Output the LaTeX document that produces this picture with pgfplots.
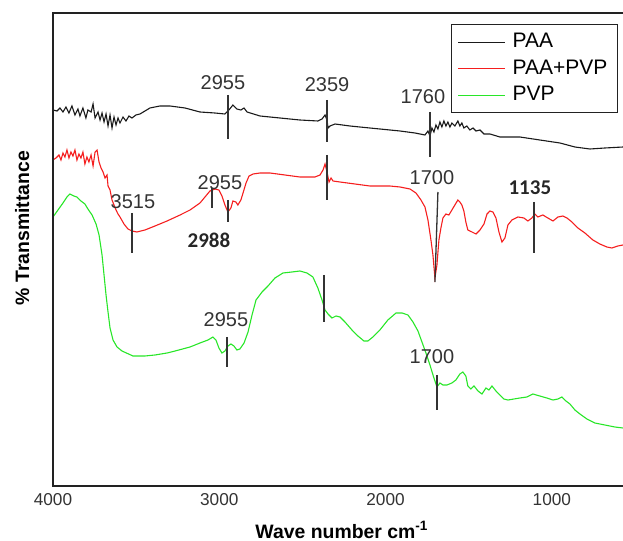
\documentclass[border=0pt]{standalone}
\usepackage{pgfplots}
\pgfplotsset{compat=1.18}
\usepackage{fontspec}
\setmainfont{Liberation Sans}
\newfontfamily\calib{Carlito}
\definecolor{txt}{HTML}{333333}
\definecolor{ln}{HTML}{222222}
\definecolor{cgreen}{RGB}{40,230,40}
\definecolor{cred}{RGB}{245,30,30}
\definecolor{cblack}{HTML}{1A1A1A}
\begin{document}
\begin{tikzpicture}
\begin{axis}[
 scale only axis, width=285pt, height=236.5pt,
 x dir=reverse, xmin=572, xmax=4000, ymin=55, ymax=528,
 xtick={1000,2000,3000,4000}, ytick=\empty,
 major tick length=0pt,
 axis line style={draw=none},
 /pgf/number format/assume math mode=true,
 /pgf/number format/set thousands separator={},
 xticklabel style={font=\fontsize{8.6}{10}\selectfont, text=txt},
 xlabel={\textbf{Wave number cm\textsuperscript{-1}}},
 xlabel style={at={(axis description cs:0.507,-0.093)}, anchor=center, font=\fontsize{9.7}{11}\selectfont},
 ylabel={\textbf{\% Transmittance}},
 ylabel style={at={(axis description cs:-0.054,0.545)}, anchor=center, font=\fontsize{9.7}{11}\selectfont},
 legend style={at={(axis description cs:0.698,0.977)}, anchor=north west, draw=ln, line width=0.6pt,
   font=\fontsize{10.5}{12}\selectfont, inner xsep=3pt, inner ysep=2.5pt, row sep=0.5pt},
 legend cell align=left,
 legend image code/.code={\draw[#1] (0pt,0pt) -- (23.5pt,0pt); \path (25pt,0pt);},
]
\coordinate (SW) at (rel axis cs:0,0);
\coordinate (NE) at (rel axis cs:1,1);
\coordinate (NW) at (rel axis cs:0,1);
\coordinate (SE) at (rel axis cs:1,0);

\addplot[cblack, line width=0.55pt] coordinates {
(4000,431)(3976,430)(3958,433)(3940,429)(3922,434)(3904,428)(3886,435)(3868,426)(3850,432)(3838,425)(3820,433)(3802,423)(3790,431)(3771,429)(3759,437)(3747,423)(3729,429)(3717,421)(3705,428)(3693,419)(3681,427)(3669,415)(3657,426)(3645,413)(3633,424)(3621,416)(3609,423)(3597,418)(3579,424)(3561,420)(3543,425)(3525,423)(3501,426)(3477,427)(3417,433)(3357,435)(3296,435)(3206,433)(3116,429)(3026,428)(2966,427)(2942,431)(2918,436)(2894,432)(2870,431)(2851,433)(2833,429)(2755,425)(2635,423)(2515,421)(2407,420)(2382,422)(2364,426)(2352,421)(2346,413)(2334,415)(2304,417)(2214,415)(2094,413)(1913,410)(1823,408)(1763,406)(1745,410)(1733,405)(1721,413)(1709,409)(1697,416)(1685,412)(1673,419)(1661,414)(1649,420)(1637,415)(1625,419)(1613,414)(1601,418)(1583,415)(1565,420)(1553,415)(1541,418)(1529,413)(1511,415)(1493,411)(1474,413)(1456,410)(1432,411)(1408,407)(1372,407)(1312,404)(1192,404)(1072,401)(951,398)(861,394)(771,392)(681,393)(572,394)
};
\addlegendentry{PAA}

\addplot[cred, line width=0.55pt] coordinates {
(4000,381)(3982,383)(3964,386)(3952,381)(3940,388)(3928,384)(3916,391)(3904,383)(3892,389)(3880,385)(3868,391)(3856,381)(3844,387)(3832,383)(3820,389)(3808,377)(3796,384)(3784,379)(3771,386)(3759,375)(3747,389)(3735,391)(3723,379)(3711,373)(3699,369)(3687,363)(3675,366)(3669,355)(3657,351)(3645,341)(3633,336)(3621,331)(3609,327)(3597,324)(3573,317)(3549,312)(3525,310)(3495,309)(3447,311)(3387,315)(3314,320)(3236,326)(3176,331)(3116,338)(3086,344)(3056,350)(3026,352)(3002,351)(2984,345)(2966,336)(2948,329)(2930,333)(2918,340)(2900,339)(2888,336)(2870,341)(2857,348)(2839,358)(2821,365)(2797,367)(2755,368)(2695,368)(2605,366)(2515,364)(2425,364)(2394,366)(2376,371)(2364,377)(2352,369)(2340,359)(2328,363)(2316,360)(2274,359)(2184,357)(2094,355)(1974,355)(1913,354)(1853,352)(1817,348)(1787,341)(1763,334)(1745,321)(1727,301)(1715,286)(1703,263)(1691,276)(1679,301)(1667,313)(1655,323)(1637,327)(1619,326)(1601,331)(1583,336)(1565,341)(1553,339)(1541,336)(1529,330)(1517,319)(1505,311)(1480,309)(1456,307)(1432,311)(1408,317)(1390,327)(1372,330)(1354,329)(1336,323)(1318,309)(1300,299)(1282,303)(1264,316)(1240,321)(1204,324)(1168,323)(1144,320)(1120,323)(1102,327)(1084,324)(1054,326)(1024,323)(993,320)(963,324)(933,325)(909,323)(879,319)(843,313)(801,308)(753,301)(711,297)(669,294)(639,293)(603,295)(572,296)
};
\addlegendentry{PAA+PVP}

\addplot[cgreen, line width=0.55pt] coordinates {
(4000,324)(3970,331)(3940,338)(3916,344)(3898,347)(3874,345)(3856,344)(3832,340)(3808,337)(3790,332)(3765,326)(3741,317)(3723,306)(3705,286)(3693,266)(3681,246)(3669,229)(3657,213)(3639,201)(3615,194)(3585,190)(3519,185)(3447,185)(3387,186)(3314,188)(3266,190)(3176,194)(3116,198)(3068,201)(3038,204)(3020,201)(3002,193)(2984,188)(2966,190)(2948,195)(2930,197)(2912,195)(2894,191)(2876,192)(2851,198)(2827,209)(2803,226)(2779,241)(2743,249)(2707,255)(2665,263)(2617,268)(2563,269)(2515,270)(2473,268)(2437,264)(2407,253)(2382,241)(2364,231)(2346,227)(2322,223)(2298,225)(2274,224)(2244,219)(2202,211)(2166,205)(2130,200)(2106,200)(2076,204)(2034,211)(1986,221)(1937,228)(1901,228)(1865,226)(1835,219)(1805,210)(1781,199)(1757,188)(1733,176)(1709,163)(1691,154)(1673,158)(1655,156)(1631,156)(1601,158)(1577,161)(1553,167)(1535,169)(1517,165)(1505,155)(1487,152)(1468,155)(1444,150)(1420,147)(1396,153)(1378,151)(1360,155)(1336,150)(1312,146)(1288,142)(1264,141)(1228,142)(1192,143)(1150,144)(1114,147)(1072,145)(1030,143)(993,141)(963,142)(939,144)(915,140)(891,137)(861,131)(831,127)(789,122)(741,118)(681,116)(621,114)(572,113)
};
\addlegendentry{PVP}

% annotations
\begin{scope}[every node/.style={text=txt, font=\fontsize{10}{12}\selectfont, inner sep=0pt}]
\node at (axis cs:2978,458) {2955};
\node at (axis cs:2352,456) {2359};
\node at (axis cs:1775,444) {1760};
\node at (axis cs:3519,339) {3515};
\node at (axis cs:2996,358) {2955};
\node at (axis cs:1721,363) {1700};
\node at (axis cs:2960,221) {2955};
\node at (axis cs:1721,184) {1700};
\node[font=\calib\bfseries\fontsize{10.5}{12}\selectfont, text=black!85] at (axis cs:3062,301) {2988};
\node[font=\calib\bfseries\fontsize{10.5}{12}\selectfont, text=black!85] at (axis cs:1132,353) {1135};
\end{scope}
\begin{scope}[draw=txt, line width=0.65pt]
\draw (axis cs:2948,446) -- (axis cs:2948,402);
\draw (axis cs:2352,441) -- (axis cs:2352,399);
\draw (axis cs:1733,429) -- (axis cs:1733,384);
\draw (axis cs:3525,328) -- (axis cs:3525,288);
\draw (axis cs:3044,353) -- (axis cs:3044,333);
\draw (axis cs:2948,341) -- (axis cs:2948,319);
\draw (axis cs:2352,386) -- (axis cs:2352,341);
\draw (axis cs:1685,349) -- (axis cs:1703,259);
\draw (axis cs:1108,339) -- (axis cs:1108,288);
\draw (axis cs:2954,204) -- (axis cs:2954,174);
\draw (axis cs:2370,266) -- (axis cs:2370,219);
\draw (axis cs:1691,166) -- (axis cs:1691,131);
\end{scope}
\end{axis}
\draw[ln, line width=1pt] (NE) -- (NW) -- (SW) -- (SE);
\pgfresetboundingbox
\path ([xshift=-26.5pt,yshift=-27.5pt]SW) rectangle ([yshift=6.5pt]NE);
\end{tikzpicture}
\end{document}
